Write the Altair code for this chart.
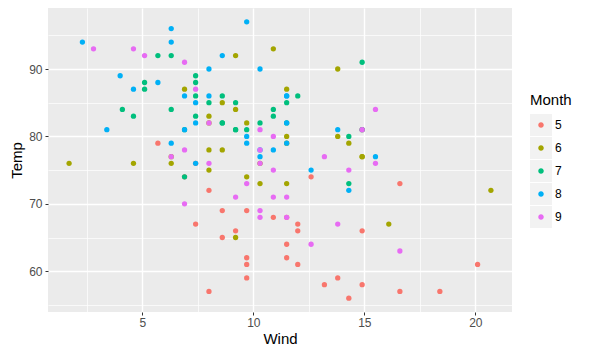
import altair as alt
import pandas as pd

months = [5, 6, 7, 8, 9]
colors = ["#F8766D", "#A3A500", "#00BF7D", "#00B0F6", "#E76BF3"]

wind_5 = [7.4, 8.0, 12.6, 11.5, 14.3, 14.9, 8.6, 13.8, 20.1, 8.6, 6.9, 9.7, 9.2, 10.9, 13.2, 11.5,
          12.0, 18.4, 11.5, 9.7, 9.7, 16.6, 9.7, 12.0, 16.6, 14.9, 8.0, 12.0, 14.9, 5.7, 7.4]
temp_5 = [67, 72, 74, 62, 56, 66, 65, 59, 61, 69, 74, 69, 66, 68, 58, 64,
          66, 57, 68, 62, 59, 73, 61, 61, 57, 58, 57, 67, 81, 79, 76]
wind_6 = [8.6, 9.7, 16.1, 9.2, 8.6, 14.3, 9.7, 6.9, 13.8, 11.5, 10.9, 9.2, 8.0, 13.8, 11.5,
          14.9, 20.7, 9.2, 11.5, 10.3, 6.3, 1.7, 4.6, 6.3, 8.0, 8.0, 10.3, 11.5, 14.9, 8.0]
temp_6 = [78, 74, 67, 84, 85, 79, 82, 87, 90, 87, 93, 92, 82, 80, 79,
          77, 72, 65, 73, 76, 77, 76, 76, 76, 75, 78, 73, 80, 77, 83]
wind_7 = [4.1, 9.2, 9.2, 10.9, 4.6, 10.9, 5.1, 6.3, 5.7, 7.4, 8.6, 14.3, 14.9, 14.9, 14.3, 6.9,
          10.3, 6.3, 5.1, 11.5, 6.9, 9.7, 11.5, 8.6, 8.0, 8.6, 12.0, 7.4, 7.4, 7.4, 9.2]
temp_7 = [84, 85, 81, 84, 83, 83, 88, 92, 92, 89, 82, 73, 81, 91, 80, 81,
          82, 84, 87, 85, 74, 81, 82, 86, 85, 82, 86, 88, 86, 83, 81]
wind_8 = [6.9, 13.8, 7.4, 6.9, 7.4, 4.6, 4.0, 10.3, 8.0, 8.6, 11.5, 11.5, 11.5, 9.7, 11.5, 10.3,
          6.3, 7.4, 10.9, 10.3, 15.5, 14.3, 12.6, 9.7, 3.4, 8.0, 5.7, 9.7, 2.3, 6.3, 6.3]
temp_8 = [81, 81, 82, 86, 85, 87, 89, 90, 90, 92, 86, 86, 82, 80, 79, 77,
          79, 76, 78, 78, 77, 72, 75, 79, 81, 86, 88, 97, 94, 96, 94]
wind_9 = [6.9, 5.1, 2.8, 4.6, 7.4, 15.5, 10.9, 10.3, 10.9, 9.7, 14.9, 15.5, 6.3, 10.9, 11.5,
          6.9, 13.8, 10.3, 10.3, 8.0, 12.6, 9.2, 10.3, 10.3, 16.6, 6.9, 13.2, 14.3, 8.0, 11.5]
temp_9 = [91, 92, 93, 93, 87, 84, 80, 78, 75, 73, 81, 76, 77, 71, 71,
          78, 67, 76, 68, 82, 64, 71, 81, 69, 63, 70, 77, 75, 76, 68]

x_ticks = [2.5, 5, 7.5, 10, 12.5, 15, 17.5, 20]
y_ticks = [55, 60, 65, 70, 75, 80, 85, 90, 95]

winds = [wind_5, wind_6, wind_7, wind_8, wind_9]
temps = [temp_5, temp_6, temp_7, temp_8, temp_9]
rows = []
for m, ws, ts in zip(months, winds, temps):
    for w, t in zip(ws, ts):
        rows.append({"Wind": w, "Temp": t, "Month": m})
df = pd.DataFrame(rows)

FONT = "Liberation Sans"

x_enc = alt.X(
    "Wind:Q",
    title="Wind",
    scale=alt.Scale(domain=[0.75, 21.65], nice=False, zero=False),
    axis=alt.Axis(
        values=x_ticks,
        labelExpr="datum.value % 5 === 0 ? datum.label : ''",
        gridWidth={"condition": {"test": "datum.value % 5 === 0", "value": 1.4}, "value": 0.7},
        tickOpacity={"condition": {"test": "datum.value % 5 === 0", "value": 1}, "value": 0},
        labelPadding=2,
        titlePadding=3,
    ),
)
y_enc = alt.Y(
    "Temp:Q",
    title="Temp",
    scale=alt.Scale(domain=[53.95, 99.05], nice=False, zero=False),
    axis=alt.Axis(
        values=y_ticks,
        labelExpr="datum.value % 10 === 0 ? datum.label : ''",
        gridWidth={"condition": {"test": "datum.value % 10 === 0", "value": 1.4}, "value": 0.7},
        tickOpacity={"condition": {"test": "datum.value % 10 === 0", "value": 1}, "value": 0},
        labelPadding=3,
        titlePadding=4,
    ),
)

legend_common = dict(
    orient="none",
    legendX=482,
    legendY=85,
    padding=0,
    symbolSize=484,
    symbolStrokeWidth=0,
    titlePadding=6,
    labelOffset=3,
    labelFontSize=12,
    titleFontSize=15,
    titleFontWeight="normal",
    titleColor="black",
    labelColor="black",
    labelFont=FONT,
    titleFont=FONT,
)

key_layer = (
    alt.Chart(df)
    .transform_filter("false")
    .mark_square(size=0)
    .encode(
        x=x_enc,
        y=y_enc,
        color=alt.Color(
            "Month:N",
            scale=alt.Scale(domain=months, range=["#F2F2F2"] * 5),
            legend=alt.Legend(title="Month", symbolType="square", symbolOpacity=1,
                              rowPadding=1, labelOpacity=0, titleOpacity=0, **legend_common),
        ),
    )
)

points = (
    alt.Chart(df)
    .mark_circle(size=28, opacity=1)
    .encode(
        x=x_enc,
        y=y_enc,
        color=alt.Color(
            "Month:N",
            scale=alt.Scale(range=colors),
            legend=alt.Legend(
                title="Month",
                symbolType="M-0.25,0A0.25,0.25,0,1,0,0.25,0A0.25,0.25,0,1,0,-0.25,0Z",
                symbolOpacity=1,
                rowPadding=6,
                **legend_common,
            ),
        ),
    )
)

chart = (
    alt.layer(key_layer, points)
    .resolve_scale(color="independent")
    .properties(
        width=464,
        height=304,
        autosize=alt.AutoSizeParams(type="none"),
        padding={"left": 40, "top": 0, "right": 70, "bottom": 40},
    )
    .configure_view(fill="#EBEBEB", strokeWidth=0)
    .configure_axis(
        domain=False,
        gridColor="white",
        tickColor="#333333",
        tickSize=3,
        labelColor="#4D4D4D",
        labelFontSize=12,
        labelFont=FONT,
        titleFont=FONT,
        titleFontSize=15,
        titleFontWeight="normal",
        titleColor="black",
    )
)

chart.save("out.html", embed_options={"renderer": "svg", "actions": False})
